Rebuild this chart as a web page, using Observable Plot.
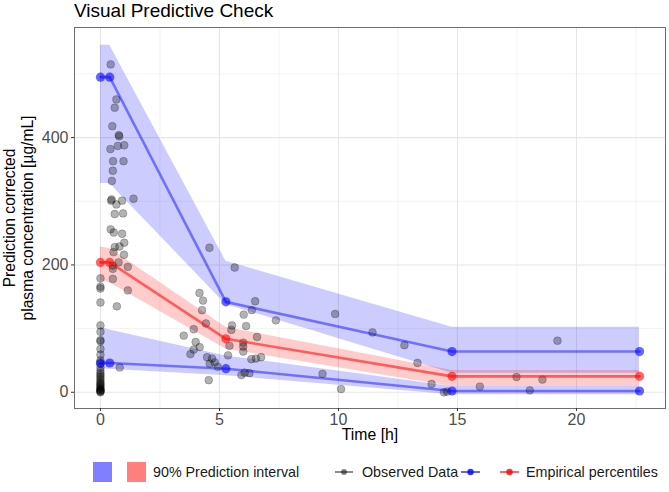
<!DOCTYPE html>
<html>
<head>
<meta charset="utf-8">
<script src="https://cdn.jsdelivr.net/npm/d3@7"></script>
<script src="https://cdn.jsdelivr.net/npm/@observablehq/plot@0.6"></script>
<style>
  body { margin: 0; background: #fff; font-family: "Liberation Sans", Arial, sans-serif; }
  #wrap { width: 669px; height: 492px; position: relative; overflow: hidden; }
  #title { height: 22px; padding-left: 74px; font-size: 19px; line-height: 22px; color: #000; }
  #chart svg { display: block; }
  #legend { position: relative; height: 40px; font-size: 14.3px; color: #1a1a1a; }
  .item { position: absolute; top: 10px; height: 20px; display: flex; align-items: center; white-space: nowrap; }
  .swatch { width: 19px; height: 20px; }
</style>
</head>
<body>
<div id="wrap">
  <div id="title">Visual Predictive Check</div>
  <div id="chart"></div>
  <div id="legend">
    <div class="item" style="left:93px"><div class="swatch" style="background:rgba(0,0,255,0.5)"></div></div>
    <div class="item" style="left:127px"><div class="swatch" style="background:rgba(255,0,0,0.5)"></div></div>
    <div class="item" style="left:153px">90% Prediction interval</div>
    <div class="item" style="left:334px">
      <svg width="20" height="20"><line x1="1" x2="19" y1="10" y2="10" stroke="#000" stroke-opacity="0.45" stroke-width="2"/><circle cx="10" cy="10" r="3" fill="#000" fill-opacity="0.5"/></svg>
    </div>
    <div class="item" style="left:362px">Observed Data</div>
    <div class="item" style="left:460px">
      <svg width="21" height="20"><line x1="1" x2="20" y1="10" y2="10" stroke="blue" stroke-opacity="0.6" stroke-width="2"/><circle cx="10.5" cy="10" r="3.2" fill="blue" fill-opacity="0.8"/></svg>
    </div>
    <div class="item" style="left:499px">
      <svg width="21" height="20"><line x1="1" x2="20" y1="10" y2="10" stroke="red" stroke-opacity="0.6" stroke-width="2"/><circle cx="10.5" cy="10" r="3.2" fill="red" fill-opacity="0.8"/></svg>
    </div>
    <div class="item" style="left:526px">Empirical percentiles</div>
  </div>
</div>
<script>
// Bin midpoints (h) of the VPC
const binTime = [0, 0.39, 5.27, 14.77, 22.65];

// Empirical percentiles of the observations
const p95 = [495, 495, 142, 64, 64];
const p50 = [204, 204, 84, 25, 25];
const p05 = [46, 46, 37, 2, 2];

// 90% prediction intervals of the simulated percentiles
const hi95 = [545, 545, 206, 102, 102];
const lo95 = [328, 328, 138, 30, 30];
const hi50 = [228, 226, 102, 34, 34];
const lo50 = [175, 172, 68, 9, 9];
const hi05 = [102, 98, 57, 9, 9];
const lo05 = [37, 36, 26, -4, -4];

// Observed prediction-corrected concentrations
const obsTime = [
  0, 0, 0, 0, 0, 0, 0, 0, 0, 0, 0, 0, 0, 0, 0, 0, 0, 0, 0, 0, 0, 0, 0, 0, 0, 0, 0, 0, 0, 0,
  0.43, 0.67, 0.6, 0.5, 0.77, 0.79, 0.42, 0.73, 1.0, 0.53, 0.97, 0.52, 0.48, 0.45, 0.47, 0.67, 0.91, 1.39,
  0.6, 0.95, 0.43, 0.56, 0.91, 1.0, 0.6, 0.8, 0.55, 0.99, 0.76, 0.52, 1.15, 0.52, 0.52, 1.15, 0.69, 0.81,
  4.58, 5.64, 4.16, 4.31, 4.27, 6.5, 6.36, 6.02, 7.37, 4.43, 5.53, 5.5, 6.12, 3.92, 3.5, 6.58, 4.0, 4.17,
  3.92, 3.78, 5.42, 6.0, 6.0, 6.0, 5.36, 4.48, 4.69, 4.8, 4.59, 4.93, 6.34, 6.53, 6.75, 6.06, 5.92, 6.26, 4.55,
  9.86, 11.43, 12.77, 13.32, 13.91, 9.33, 10.11, 14.43, 14.56, 15.94, 17.48, 18.57, 18.04, 19.2
];
const obsConc = [
  179, 166, 163, 141, 105, 95, 82, 80, 68, 59, 50, 45, 39, 34, 30, 27, 24, 21, 18, 15, 13, 11, 9, 7, 5, 4, 3, 2, 1, 0,
  515, 460, 447, 418, 404, 402, 382, 387, 388, 363, 363, 348, 332, 301, 303, 295, 301, 304,
  280, 281, 256, 251, 249, 235, 228, 229, 220, 216, 204, 199, 197, 194, 178, 160, 135, 39,
  227, 196, 156, 144, 129, 143, 129, 122, 113, 108, 105, 98, 104, 99, 89, 87, 79, 71,
  67, 60, 73, 78, 72, 64, 58, 55, 53, 47, 45, 40, 52, 53, 55, 31, 27, 30, 19,
  123, 94, 74, 46, 13, 29, 5, 0, 1, 9, 24, 20, 3, 81
];

// Axis ticks
const xMajor = [0, 5, 10, 15, 20];
const xMinor = [2.5, 7.5, 12.5, 17.5, 22.5];
const yMajor = [0, 200, 400];
const yMinor = [100, 300, 500];

const bins = binTime.map((t, i) => ({
  t, p95: p95[i], p50: p50[i], p05: p05[i],
  hi95: hi95[i], lo95: lo95[i], hi50: hi50[i], lo50: lo50[i], hi05: hi05[i], lo05: lo05[i]
}));
const obs = obsTime.map((t, i) => ({t, c: obsConc[i]}));

const chart = Plot.plot({
  width: 669,
  height: 430,
  marginLeft: 74,
  marginRight: 4,
  marginTop: 5,
  marginBottom: 44,
  style: {fontFamily: "'Liberation Sans', Arial, sans-serif", background: "#fff"},
  x: {domain: [-1.09, 23.74]},
  y: {domain: [-25.5, 573]},
  marks: [
    Plot.gridX(xMinor, {stroke: "#ebebeb", strokeOpacity: 1, strokeWidth: 0.6}),
    Plot.gridY(yMinor, {stroke: "#ebebeb", strokeOpacity: 1, strokeWidth: 0.6}),
    Plot.gridX(xMajor, {stroke: "#e6e6e6", strokeOpacity: 1, strokeWidth: 1.1}),
    Plot.gridY(yMajor, {stroke: "#e6e6e6", strokeOpacity: 1, strokeWidth: 1.1}),
    // prediction intervals
    Plot.areaY(bins, {x: "t", y1: "lo95", y2: "hi95", fill: "blue", fillOpacity: 0.2}),
    Plot.areaY(bins, {x: "t", y1: "lo05", y2: "hi05", fill: "blue", fillOpacity: 0.2}),
    Plot.areaY(bins, {x: "t", y1: "lo50", y2: "hi50", fill: "red", fillOpacity: 0.2}),
    // observations
    Plot.dot(obs, {x: "t", y: "c", r: 3.9, fill: "#000", fillOpacity: 0.3, stroke: "#000", strokeOpacity: 0.35, strokeWidth: 0.6}),
    // empirical percentiles
    Plot.line(bins, {x: "t", y: "p95", stroke: "blue", strokeOpacity: 0.45, strokeWidth: 2.6}),
    Plot.line(bins, {x: "t", y: "p05", stroke: "blue", strokeOpacity: 0.45, strokeWidth: 2.6}),
    Plot.line(bins, {x: "t", y: "p50", stroke: "red", strokeOpacity: 0.55, strokeWidth: 2.6}),
    Plot.dot(bins, {x: "t", y: "p95", r: 4.6, fill: "blue", fillOpacity: 0.6}),
    Plot.dot(bins, {x: "t", y: "p05", r: 4.6, fill: "blue", fillOpacity: 0.6}),
    Plot.dot(bins, {x: "t", y: "p50", r: 4.6, fill: "red", fillOpacity: 0.6}),
    Plot.frame({stroke: "#6e6e6e", strokeWidth: 1}),
    Plot.axisX(xMajor, {tickSize: 3, tickPadding: 2, fontSize: 16, fill: "#4d4d4d", stroke: "#333", label: null}),
    Plot.axisY(yMajor, {tickSize: 3, tickPadding: 3, fontSize: 16, fill: "#4d4d4d", stroke: "#333", label: null}),
    Plot.text(["Time [h]"], {text: d => d, frameAnchor: "bottom", dy: 31, fontSize: 15.8, fill: "#000"}),
    Plot.text(["Prediction corrected\nplasma concentration [µg/mL]"], {
      text: d => d, frameAnchor: "left", rotate: -90, dx: -56, fontSize: 15.6,
      lineHeight: 1.15, lineAnchor: "middle", textAnchor: "middle", fill: "#000"
    })
  ]
});
document.getElementById("chart").appendChild(chart);
</script>
</body>
</html>
